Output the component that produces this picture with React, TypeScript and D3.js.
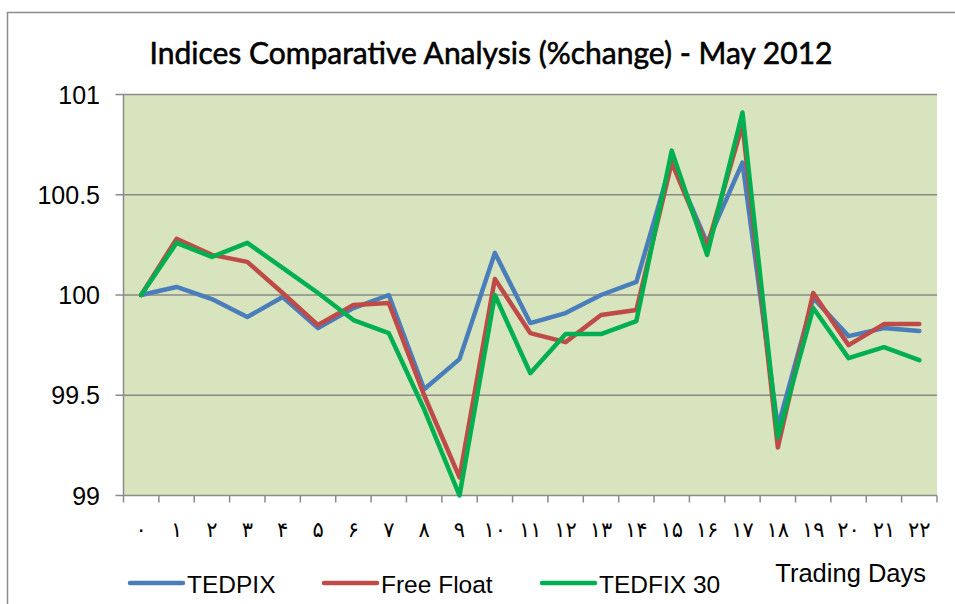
import React, { useEffect, useRef } from "react";
import * as d3 from "d3";

// Trading day labels (Persian digits) and index values
const dayLabels = [
  "۰", "۱", "۲", "۳", "۴", "۵", "۶", "۷", "۸", "۹", "۱۰", "۱۱",
  "۱۲", "۱۳", "۱۴", "۱۵", "۱۶", "۱۷", "۱۸", "۱۹", "۲۰", "۲۱", "۲۲",
];

const tedpix = [
  100, 100.04, 99.98, 99.89, 99.99, 99.835, 99.935, 100.0, 99.53, 99.68,
  100.21, 99.86, 99.91, 100.0, 100.065, 100.67, 100.26, 100.66, 99.34,
  99.985, 99.795, 99.835, 99.82,
];

const freeFloat = [
  100, 100.28, 100.2, 100.165, 100.01, 99.85, 99.95, 99.96, 99.5, 99.09,
  100.08, 99.81, 99.765, 99.9, 99.925, 100.66, 100.24, 100.85, 99.24,
  100.01, 99.75, 99.855, 99.855,
];

const tedfix30 = [
  100, 100.26, 100.19, 100.26, 100.135, 100.01, 99.875, 99.81, 99.43, 99.0,
  100.0, 99.61, 99.805, 99.805, 99.87, 100.72, 100.2, 100.91, 99.29, 99.935,
  99.685, 99.74, 99.675,
];

const yTicks = [99, 99.5, 100, 100.5, 101];

const seriesNames = ["TEDPIX", "Free Float", "TEDFIX 30"];
const seriesColors = ["#4a7ebb", "#be4b48", "#00b050"];

const W = 955;
const H = 604;

function drawChart(container: SVGSVGElement) {
  const svg = d3.select(container);
  svg.selectAll("*").remove();

  const left = 123.5;
  const right = 937;
  const top = 94.5;
  const bottom = 495.5;

  const x = d3
    .scaleBand<string>()
    .domain(dayLabels)
    .range([left, right])
    .padding(0);
  const y = d3.scaleLinear().domain([99, 101]).range([bottom, top]);

  // chart border
  svg
    .append("rect")
    .attr("x", 7.5)
    .attr("y", 12.5)
    .attr("width", W)
    .attr("height", H)
    .attr("fill", "#fff")
    .attr("stroke", "#8a8a8a")
    .attr("stroke-width", 1.5);

  // plot area
  svg
    .append("rect")
    .attr("x", left)
    .attr("y", top)
    .attr("width", right - left)
    .attr("height", bottom - top)
    .attr("fill", "#d7e4bd");

  // grid lines
  svg
    .append("g")
    .selectAll("line")
    .data(yTicks)
    .join("line")
    .attr("x1", left - 8)
    .attr("x2", right)
    .attr("y1", (d) => y(d))
    .attr("y2", (d) => y(d))
    .attr("stroke", "#8a8a8a")
    .attr("stroke-width", 1.5);

  // y axis line
  svg
    .append("line")
    .attr("x1", left)
    .attr("x2", left)
    .attr("y1", top)
    .attr("y2", bottom)
    .attr("stroke", "#8a8a8a")
    .attr("stroke-width", 1.5);

  // y labels
  svg
    .append("g")
    .selectAll("text")
    .data(yTicks)
    .join("text")
    .attr("x", 100)
    .attr("y", (d) => y(d))
    .attr("dy", "0.36em")
    .attr("text-anchor", "end")
    .style("font-family", "'Liberation Sans', Arial, sans-serif")
    .style("font-size", "25px")
    .attr("fill", "#000")
    .text((d) => d3.format("")(d));

  // x ticks at category boundaries
  const boundaries = dayLabels.map((d) => x(d) as number).concat([right]);
  svg
    .append("g")
    .selectAll("line")
    .data(boundaries)
    .join("line")
    .attr("x1", (d) => d)
    .attr("x2", (d) => d)
    .attr("y1", bottom)
    .attr("y2", bottom + 7)
    .attr("stroke", "#8a8a8a")
    .attr("stroke-width", 1.5);

  // x labels
  svg
    .append("g")
    .selectAll("text")
    .data(dayLabels)
    .join("text")
    .attr("x", (d) => (x(d) as number) + x.bandwidth() / 2)
    .attr("y", 537)
    .attr("text-anchor", "middle")
    .attr("direction", "ltr")
    .style("font-family", "'DejaVu Sans', sans-serif")
    .style("font-size", "21px")
    .attr("fill", "#000")
    .text((d) => d);

  // lines
  const allSeries = [tedpix, freeFloat, tedfix30];
  const line = d3
    .line<number>()
    .x((_, i) => (x(dayLabels[i]) as number) + x.bandwidth() / 2)
    .y((d) => y(d));

  allSeries.forEach((values, i) => {
    svg
      .append("path")
      .datum(values)
      .attr("fill", "none")
      .attr("stroke", seriesColors[i])
      .attr("stroke-width", 4.5)
      .attr("stroke-linejoin", "round")
      .attr("stroke-linecap", "round")
      .attr("d", line);
  });

  // title
  svg
    .append("text")
    .attr("x", 491)
    .attr("y", 64)
    .attr("text-anchor", "middle")
    .attr("textLength", 683)
    .attr("lengthAdjust", "spacingAndGlyphs")
    .style("font-family", "Lato, 'Open Sans', sans-serif")
    .style("font-size", "31px")
    .style("font-weight", "normal")
    .attr("fill", "#000")
    .attr("stroke", "#000")
    .attr("stroke-width", 0.6)
    .text("Indices Comparative Analysis (%change) - May 2012");

  // legend
  const legendX = [130, 324, 542];
  seriesNames.forEach((name, i) => {
    const g = svg.append("g").attr("transform", `translate(${legendX[i]},583)`);
    g.append("line")
      .attr("x1", 0)
      .attr("x2", 53)
      .attr("stroke", seriesColors[i])
      .attr("stroke-width", 4.5)
      .attr("stroke-linecap", "round");
    g.append("text")
      .attr("x", 57)
      .attr("y", 10)
      .style("font-family", "'Liberation Sans', Arial, sans-serif")
      .style("font-size", "24.5px")
      .attr("fill", "#000")
      .text(name);
  });

  // x axis title
  svg
    .append("text")
    .attr("x", 926)
    .attr("y", 582)
    .attr("text-anchor", "end")
    .style("font-family", "'Liberation Sans', Arial, sans-serif")
    .style("font-size", "25.5px")
    .attr("fill", "#000")
    .text("Trading Days");
}

export default function App() {
  const ref = useRef<SVGSVGElement>(null);

  useEffect(() => {
    if (ref.current) drawChart(ref.current);
  }, []);

  return (
    <svg
      ref={ref}
      width={W}
      height={H}
      style={{ position: "absolute", left: 0, top: 0, background: "#fff" }}
    />
  );
}
